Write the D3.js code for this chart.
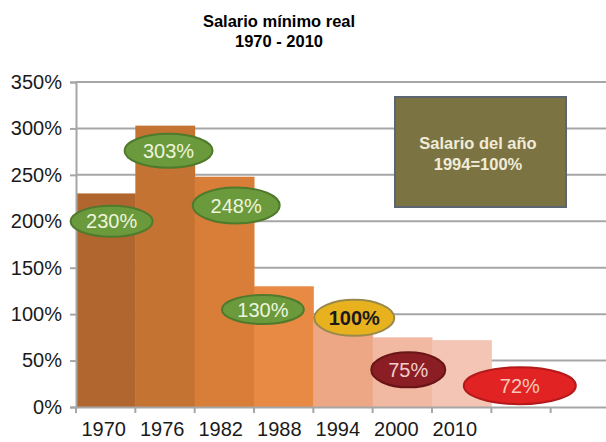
<!DOCTYPE html>
<html lang="es">
<head>
  <meta charset="UTF-8">
  <title>Salario mínimo real</title>
  <style>
    body { margin: 0; background: #fff; }
    text { font-family: "Liberation Sans", Arial, sans-serif; }
  </style>
</head>
<body>
  <svg id="chart" width="606" height="442"></svg>
  <script src="https://d3js.org/d3.v7.min.js"></script>
  <script>
    // data
    var years = ["1970", "1976", "1982", "1988", "1994", "2000", "2010", "", " "];
    var values = [230, 303, 248, 130, 100, 75, 72];
    var barColors = ["#b0662e", "#c57333", "#d97e38", "#e88a44", "#eda784", "#f1b8a2", "#f4c5b5"];
    var yTicks = [0, 50, 100, 150, 200, 250, 300, 350];

    // bubble labels: where they sit (band fraction, value level) and colours
    var labelShift = [0.6, 0.56, 0.7, 0.15, 0.69, 0.6, 1.48];
    var labelLevel = [200, 276, 217, 105, 96, 40, 23];
    var labelWidth = [82, 88, 87, 82, 80, 74, 112];
    var labelHeight = [31, 34, 36, 29, 36, 35, 37];
    var labelFill = ["#6b9a3c", "#6b9a3c", "#6b9a3c", "#6b9a3c", "#e8b21f", "#8a1e24", "#e12323"];
    var labelStroke = ["#4f7a2c", "#4f7a2c", "#4f7a2c", "#4f7a2c", "#9a8a4a", "#6a1418", "#b41a1a"];
    var labelText = ["#eef4dc", "#eef4dc", "#eef4dc", "#eef4dc", "#1a1a1a", "#f3cccc", "#f6c8b8"];

    var svg = d3.select("#chart"),
      margin = {left: 76, top: 82, bottom: 35},
      width = 610,
      height = 442;

    var x = d3.scaleBand()
      .domain(years)
      .range([margin.left, width])
      .padding(0);

    var y = d3.scaleLinear()
      .domain([0, 350])
      .range([height - margin.bottom, margin.top]);

    // title
    svg.append("text")
      .attr("x", 279).attr("y", 27)
      .attr("text-anchor", "middle")
      .style("font-size", "16.5px").style("font-weight", "bold")
      .text("Salario mínimo real");
    svg.append("text")
      .attr("x", 279).attr("y", 47)
      .attr("text-anchor", "middle")
      .style("font-size", "16.5px").style("font-weight", "bold")
      .text("1970 - 2010");

    // gridlines
    svg.append("g")
      .selectAll("line")
      .data(yTicks.slice(1))
      .join("line")
      .attr("x1", margin.left).attr("x2", width)
      .attr("y1", function(d) { return y(d); })
      .attr("y2", function(d) { return y(d); })
      .attr("stroke", "#a6a6a6")
      .attr("stroke-width", 2);

    // bars
    svg.append("g")
      .selectAll("rect")
      .data(values)
      .join("rect")
      .attr("x", function(d, i) { return x(years[i]); })
      .attr("width", x.bandwidth() + 0.5)
      .attr("y", function(d) { return y(d); })
      .attr("height", function(d) { return y(0) - y(d); })
      .attr("fill", function(d, i) { return barColors[i]; });

    // y axis
    var yAxis = svg.append("g")
      .attr("transform", "translate(" + margin.left + ",0)")
      .call(d3.axisLeft(y).tickValues(yTicks).tickSize(6).tickPadding(8)
        .tickFormat(function(d) { return d + "%"; }));
    yAxis.select(".domain").attr("stroke", "#a6a6a6").attr("stroke-width", 2);
    yAxis.selectAll(".tick line").attr("stroke", "#a6a6a6").attr("stroke-width", 2);
    yAxis.selectAll(".tick text")
      .style("font-size", "20px").attr("fill", "#1a1a1a");

    // x axis
    var xAxis = svg.append("g")
      .attr("transform", "translate(0," + y(0) + ")")
      .call(d3.axisBottom(x).tickSize(0).tickPadding(15));
    xAxis.select(".domain").attr("stroke", "#a6a6a6").attr("stroke-width", 2);
    xAxis.selectAll(".tick text")
      .attr("dx", function(d, i) { return -2 - i * 0.8; })
      .style("font-size", "20px").attr("fill", "#1a1a1a");
    // ticks at the band boundaries
    svg.append("g")
      .selectAll("line")
      .data(years)
      .join("line")
      .attr("x1", function(d) { return x(d); })
      .attr("x2", function(d) { return x(d); })
      .attr("y1", y(0)).attr("y2", y(0) + 6)
      .attr("stroke", "#a6a6a6").attr("stroke-width", 2);

    // note box
    var box = svg.append("g");
    box.append("rect")
      .attr("x", 395).attr("y", 97)
      .attr("width", 171).attr("height", 110)
      .attr("fill", "#7c7343")
      .attr("stroke", "#5c6672").attr("stroke-width", 2);
    box.append("text")
      .attr("x", 478).attr("y", 149)
      .attr("text-anchor", "middle")
      .attr("fill", "#f0ecd8")
      .style("font-size", "16.5px").style("font-weight", "bold")
      .text("Salario del año");
    box.append("text")
      .attr("x", 478).attr("y", 170)
      .attr("text-anchor", "middle")
      .attr("fill", "#f0ecd8")
      .style("font-size", "16.5px").style("font-weight", "bold")
      .text("1994=100%");

    // bubble labels
    var bubbles = svg.append("g")
      .selectAll("g")
      .data(values)
      .join("g")
      .attr("transform", function(d, i) {
        return "translate(" + (x(years[i]) + x.bandwidth() * labelShift[i]) + "," + y(labelLevel[i]) + ")";
      });
    bubbles.append("ellipse")
      .attr("rx", function(d, i) { return labelWidth[i] / 2; })
      .attr("ry", function(d, i) { return labelHeight[i] / 2; })
      .attr("fill", function(d, i) { return labelFill[i]; })
      .attr("stroke", function(d, i) { return labelStroke[i]; })
      .attr("stroke-width", 2);
    bubbles.append("text")
      .attr("text-anchor", "middle")
      .attr("dy", "0.35em")
      .attr("fill", function(d, i) { return labelText[i]; })
      .style("font-size", "20px")
      .style("font-weight", function(d, i) { return i == 4 ? "bold" : "normal"; })
      .text(function(d) { return d + "%"; });
  </script>
</body>
</html>
